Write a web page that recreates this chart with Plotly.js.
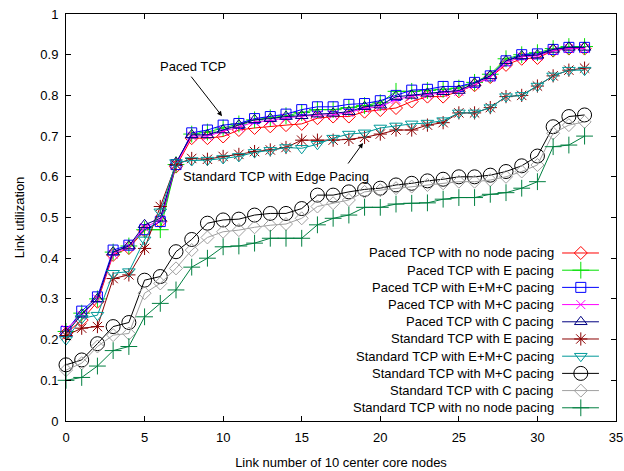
<!DOCTYPE html>
<html><head><meta charset="utf-8">
<script src="https://cdn.plot.ly/plotly-3.0.1.min.js"></script>
<style>html,body{margin:0;padding:0;background:#fff}#chart{width:624px;height:471px}</style>
</head><body><div id="chart"></div>
<script>
// ---- data ----
const linkNumber = [0,1,2,3,4,5,6,7,8,9,10,11,12,13,14,15,16,17,18,19,20,21,22,23,24,25,26,27,28,29,30,31,32,33];
const pacedNoNode = [0.215,0.248,0.293,0.408,0.425,0.468,0.49,0.625,0.695,0.695,0.699,0.715,0.72,0.724,0.727,0.73,0.744,0.748,0.748,0.76,0.764,0.769,0.785,0.797,0.797,0.81,0.825,0.845,0.875,0.89,0.892,0.91,0.915,0.915];
const pacedE = [0.22,0.265,0.30,0.415,0.43,0.47,0.47,0.63,0.705,0.71,0.72,0.73,0.74,0.745,0.75,0.758,0.765,0.765,0.77,0.775,0.782,0.81,0.81,0.812,0.815,0.818,0.832,0.852,0.89,0.9,0.905,0.915,0.92,0.92];
const pacedEMC = [0.22,0.27,0.305,0.42,0.432,0.47,0.49,0.63,0.708,0.715,0.727,0.731,0.743,0.748,0.754,0.765,0.772,0.772,0.778,0.78,0.787,0.80,0.813,0.815,0.822,0.822,0.832,0.848,0.885,0.9,0.902,0.913,0.918,0.918];
const pacedMC = [0.225,0.26,0.30,0.41,0.43,0.475,0.495,0.63,0.70,0.70,0.712,0.722,0.735,0.738,0.745,0.748,0.752,0.752,0.758,0.768,0.772,0.79,0.798,0.802,0.806,0.81,0.826,0.845,0.88,0.895,0.897,0.91,0.915,0.915];
const pacedC = [0.215,0.262,0.30,0.415,0.43,0.482,0.498,0.635,0.703,0.703,0.715,0.727,0.74,0.743,0.748,0.75,0.754,0.756,0.76,0.772,0.776,0.797,0.80,0.805,0.809,0.812,0.83,0.848,0.885,0.897,0.899,0.913,0.918,0.918];
const standardE = [0.21,0.228,0.232,0.35,0.359,0.424,0.527,0.63,0.645,0.643,0.65,0.655,0.662,0.666,0.672,0.69,0.69,0.69,0.692,0.697,0.705,0.715,0.715,0.727,0.733,0.757,0.757,0.77,0.797,0.80,0.823,0.848,0.862,0.867];
const standardEMC = [0.20,0.252,0.26,0.363,0.367,0.445,0.514,0.635,0.64,0.641,0.645,0.65,0.66,0.665,0.672,0.67,0.68,0.695,0.705,0.708,0.72,0.725,0.73,0.732,0.738,0.757,0.757,0.77,0.797,0.80,0.823,0.848,0.862,0.862];
const standardMC = [0.138,0.15,0.19,0.232,0.242,0.346,0.355,0.416,0.446,0.486,0.494,0.496,0.506,0.51,0.51,0.522,0.555,0.555,0.563,0.569,0.572,0.58,0.584,0.59,0.594,0.60,0.60,0.604,0.613,0.627,0.651,0.723,0.748,0.752];
const standardC = [0.125,0.142,0.183,0.211,0.215,0.314,0.338,0.375,0.42,0.451,0.465,0.469,0.476,0.481,0.484,0.498,0.527,0.535,0.543,0.563,0.567,0.572,0.576,0.58,0.584,0.588,0.588,0.592,0.60,0.613,0.629,0.707,0.727,0.735];
const standardNoNode = [0.10,0.107,0.135,0.173,0.183,0.256,0.289,0.322,0.378,0.40,0.428,0.43,0.437,0.449,0.449,0.449,0.482,0.498,0.506,0.525,0.525,0.533,0.535,0.536,0.545,0.549,0.549,0.557,0.561,0.572,0.588,0.674,0.678,0.70];
const seriesNames = [
  "Paced TCP with no node pacing","Paced TCP with E pacing","Paced TCP with E+M+C pacing",
  "Paced TCP with M+C pacing","Paced TCP with C pacing","Standard TCP with E pacing",
  "Standard TCP with E+M+C pacing","Standard TCP with M+C pacing","Standard TCP with C pacing",
  "Standard TCP with no node pacing"];
const seriesValues = [pacedNoNode,pacedE,pacedEMC,pacedMC,pacedC,standardE,standardEMC,standardMC,standardC,standardNoNode];
const xTitle = "Link number of 10 center core nodes";
const yTitle = "Link utilization";
const noteTexts = ["Paced TCP","Standard TCP with Edge Pacing"];

// ---- styles ----
const styles = [
  {color:"#ff0000", symbol:"diamond-open", size:10},
  {color:"#00e000", symbol:"cross-thin-open", size:12},
  {color:"#0000ff", symbol:"square-open", size:10},
  {color:"#ff00ff", symbol:"x-thin-open", size:9},
  {color:"#000080", symbol:"triangle-up-open", size:11},
  {color:"#8b0000", symbol:"asterisk-open", size:11},
  {color:"#009999", symbol:"triangle-down-open", size:11},
  {color:"#000000", symbol:"circle-open", size:14},
  {color:"#a0a0a0", symbol:"diamond-open", size:10},
  {color:"#007f40", symbol:"cross-thin-open", size:12}
];
const FONT = "Liberation Sans, Arial, Helvetica, sans-serif";

const traces = [];
seriesValues.forEach((vals, i) => {
  const s = styles[i];
  traces.push({
    x: linkNumber, y: vals, name: seriesNames[i], type: "scatter", mode: "lines+markers",
    line: {color: s.color, width: 1},
    marker: {symbol: s.symbol, size: s.size, color: s.color, line: {color: s.color, width: 1}},
    showlegend: false, cliponaxis: false
  });
});

// custom key (gnuplot style: text right-aligned, sample on the right)
const keyTop = 0.4128, keyStep = 0.04226, keyTextX = 0.891, keyX0 = 0.902, keyXm = 0.936, keyX1 = 0.969;
const annotations = [];
seriesNames.forEach((nm, i) => {
  const s = styles[i];
  const yk = keyTop - i * keyStep;
  annotations.push({xref:"paper", yref:"paper", x:keyTextX, y:yk, xanchor:"right", yanchor:"middle",
    text:nm, showarrow:false, font:{family:FONT, size:13, color:"#000"}});
  traces.push({
    x:[keyX0, keyXm, keyX1], y:[yk, yk, yk], xaxis:"x2", yaxis:"y2", type:"scatter", mode:"lines+markers",
    line:{color:s.color, width:1},
    marker:{symbol:s.symbol, size:s.size, color:s.color, opacity:[0,1,0], line:{color:s.color, width:1}},
    showlegend:false, hoverinfo:"skip", cliponaxis:false
  });
});

annotations.push({x:8.08, y:0.87, xref:"x", yref:"y", text:noteTexts[0], showarrow:false,
  font:{family:FONT, size:13, color:"#000"}});
annotations.push({x:13.37, y:0.60, xref:"x", yref:"y", text:noteTexts[1], showarrow:false,
  font:{family:FONT, size:13, color:"#000"}});
annotations.push({x:9.93, y:0.749, xref:"x", yref:"y", text:"", showarrow:true, arrowhead:2, arrowsize:1,
  arrowwidth:1, arrowcolor:"#000", ax:-32, ay:-41, standoff:0});
annotations.push({x:18.9, y:0.683, xref:"x", yref:"y", text:"", showarrow:true, arrowhead:2, arrowsize:1,
  arrowwidth:1, arrowcolor:"#000", ax:-16, ay:22, standoff:0});

const axisCommon = {
  showline:true, linecolor:"#000", linewidth:1, mirror:"ticks", ticks:"inside", ticklen:5,
  tickwidth:1, tickcolor:"#000", showgrid:false, zeroline:false,
  tickfont:{family:FONT, size:13, color:"#000"}
};
const layout = {
  width:624, height:471,
  margin:{l:66, r:8, t:14, b:50},
  paper_bgcolor:"#fff", plot_bgcolor:"#fff",
  font:{family:FONT, size:13, color:"#000"},
  showlegend:false,
  xaxis:Object.assign({}, axisCommon, {range:[0,35], dtick:5, tick0:0, ticklabelstandoff:4,
    title:{text:xTitle, font:{family:FONT, size:13}, standoff:14}}),
  yaxis:Object.assign({}, axisCommon, {range:[0,1], dtick:0.1, tick0:0, ticklabelstandoff:4,
    title:{text:yTitle, font:{family:FONT, size:13}, standoff:12}}),
  xaxis2:{overlaying:"x", anchor:"y2", range:[0,1], visible:false, fixedrange:true},
  yaxis2:{overlaying:"y", anchor:"x2", range:[0,1], visible:false, fixedrange:true},
  annotations:annotations
};
Plotly.newPlot("chart", traces, layout, {displayModeBar:false, staticPlot:true});
</script>
</body></html>
